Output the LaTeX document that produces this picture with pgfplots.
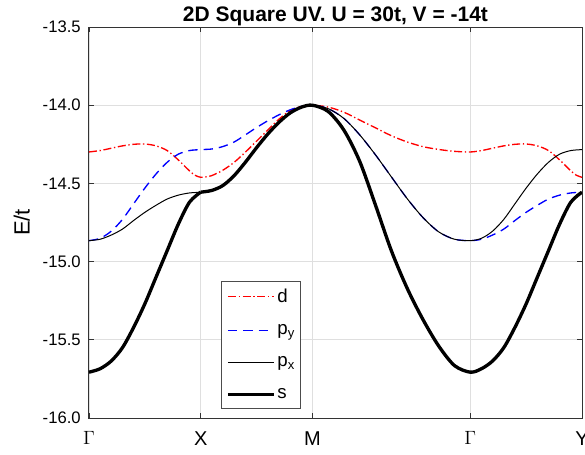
\documentclass[border=0pt]{standalone}
\usepackage{fontspec}
\setmainfont{Liberation Sans}
\usepackage{pgfplots}
\pgfplotsset{compat=1.18}
\begin{document}
\begin{tikzpicture}
\begin{axis}[
  scale only axis,
  width=369.75pt, height=293.25pt,
  xmin=0, xmax=4.41421, ymin=-16, ymax=-13.5,
  xtick={0,1,2,3.41421,4.41421},
  xticklabels={$\Gamma$,X,M,$\Gamma$,Y},
  ytick={-16,-15.5,-15,-14.5,-14,-13.5},
  y tick label style={/pgf/number format/fixed, /pgf/number format/fixed zerofill, /pgf/number format/precision=1, /pgf/number format/assume math mode=true, font=\fontsize{12.5}{14}\selectfont, inner sep=0pt, anchor=east, xshift=-6pt},
  x tick label style={font=\fontsize{15}{17}\selectfont, inner sep=0pt, anchor=north, yshift=-10pt},
  tick align=inside,
  major tick length=4pt,
  every tick/.style={black!80, line width=0.6pt},
  axis line style={black!80, line width=0.75pt},
  grid=major,
  major grid style={gray!25, line width=0.6pt},
  title={2D Square UV. U = 30t, V = -14t},
  every axis title/.style={font=\bfseries\fontsize{15.75}{18}\selectfont, at={(axis description cs:0.5,1)}, anchor=base, yshift=4.5pt, inner sep=0pt},
  ylabel={E/t},
  ylabel style={font=\fontsize{16.5}{19}\selectfont, at={(axis description cs:-0.1365,0.5)}, anchor=center, inner sep=0pt},
  legend style={at={(axis description cs:0.2677,0.0248)}, anchor=south west, draw=black!70, line width=0.5pt, fill=white, font=\fontsize{14}{16}\selectfont, inner xsep=3.75pt, inner ysep=5.5pt, row sep=15pt, cells={anchor=west}, nodes={inner sep=0pt}, /tikz/every odd column/.append style={column sep=1.5pt}},
  legend image code/.code={\draw[#1] (0pt,0pt) -- (34.3pt,0pt);},
]
% d
\addplot[red, line width=1pt, dash pattern=on 6pt off 2pt on 1pt off 2pt, smooth] coordinates {
(0,-14.299) (0.1,-14.29) (0.2,-14.275) (0.3,-14.26) (0.4,-14.25) (0.5,-14.248) (0.6,-14.26) (0.7,-14.29) (0.8,-14.35) (0.9,-14.42) (0.95,-14.448) (1,-14.461)
(1.05,-14.458) (1.1,-14.45) (1.2,-14.415) (1.3,-14.365) (1.4,-14.30) (1.5,-14.23) (1.6,-14.16) (1.7,-14.09) (1.8,-14.035) (1.9,-14.008) (2,-14.0)
(2.1414,-14.012) (2.2828,-14.045) (2.4243,-14.095) (2.5657,-14.145) (2.7071,-14.195) (2.8485,-14.235) (2.9899,-14.265) (3.1314,-14.283) (3.2728,-14.295) (3.4142,-14.299)
(3.5142,-14.29) (3.6142,-14.275) (3.7142,-14.26) (3.8142,-14.25) (3.9142,-14.248) (4.0142,-14.26) (4.1142,-14.29) (4.2142,-14.35) (4.3142,-14.42) (4.3642,-14.448) (4.4142,-14.461)
};
\addlegendentry{d}
% p_y
\addplot[blue, line width=1pt, dash pattern=on 7pt off 4.5pt, smooth] coordinates {
(0,-14.866) (0.1,-14.851) (0.2,-14.805) (0.3,-14.73) (0.4,-14.63) (0.5,-14.53) (0.6,-14.44) (0.7,-14.365) (0.8,-14.313) (0.9,-14.29) (1,-14.284)
(1.1,-14.28) (1.2,-14.264) (1.3,-14.235) (1.4,-14.19) (1.5,-14.143) (1.6,-14.10) (1.7,-14.062) (1.8,-14.03) (1.9,-14.008) (2,-14.0)
(2.1414,-14.022) (2.2828,-14.085) (2.4243,-14.19) (2.5657,-14.318) (2.7071,-14.458) (2.8485,-14.597) (2.9899,-14.718) (3.1314,-14.81) (3.2728,-14.857) (3.4142,-14.866)
(3.5142,-14.857) (3.6142,-14.83) (3.7142,-14.792) (3.8142,-14.737) (3.9142,-14.685) (4.0142,-14.64) (4.1142,-14.60) (4.2142,-14.575) (4.3142,-14.561) (4.4142,-14.556)
};
\addlegendentry{p\textsubscript{y}}
% p_x
\addplot[black, line width=0.75pt, smooth] coordinates {
(0,-14.866) (0.1,-14.857) (0.2,-14.83) (0.3,-14.792) (0.4,-14.737) (0.5,-14.685) (0.6,-14.64) (0.7,-14.60) (0.8,-14.575) (0.9,-14.561) (1,-14.556)
(1.1,-14.545) (1.2,-14.513) (1.3,-14.45) (1.4,-14.365) (1.5,-14.272) (1.6,-14.185) (1.7,-14.11) (1.8,-14.05) (1.9,-14.013) (2,-14.0)
(2.1414,-14.022) (2.2828,-14.085) (2.4243,-14.19) (2.5657,-14.318) (2.7071,-14.458) (2.8485,-14.597) (2.9899,-14.718) (3.1314,-14.81) (3.2728,-14.857) (3.4142,-14.866)
(3.5142,-14.851) (3.6142,-14.805) (3.7142,-14.73) (3.8142,-14.63) (3.9142,-14.53) (4.0142,-14.44) (4.1142,-14.365) (4.2142,-14.313) (4.3142,-14.29) (4.4142,-14.284)
};
\addlegendentry{p\textsubscript{x}}
% s
\addplot[black, line width=2.5pt, smooth] coordinates {
(0,-15.707) (0.1,-15.685) (0.2,-15.635) (0.3,-15.55) (0.4,-15.42) (0.5,-15.27) (0.6,-15.10) (0.7,-14.93) (0.8,-14.76) (0.9,-14.62) (1,-14.556)
};
\addlegendentry{s}
\addplot[black, line width=2.5pt, smooth, forget plot] coordinates {
(1,-14.556) (1.1,-14.545) (1.2,-14.513) (1.3,-14.45) (1.4,-14.365) (1.5,-14.272) (1.6,-14.185) (1.7,-14.11) (1.8,-14.05) (1.9,-14.013) (2,-14.0)
(2.1414,-14.04) (2.2828,-14.16) (2.4243,-14.36) (2.5657,-14.64) (2.7071,-14.93) (2.8485,-15.17) (2.9899,-15.37) (3.1314,-15.54) (3.2728,-15.665) (3.4142,-15.707)
(3.5142,-15.685) (3.6142,-15.635) (3.7142,-15.55) (3.8142,-15.42) (3.9142,-15.27) (4.0142,-15.10) (4.1142,-14.93) (4.2142,-14.76) (4.3142,-14.62) (4.4142,-14.556)
};
\end{axis}
\pgfresetboundingbox
\path[use as bounding box] ([xshift=-66.75pt,yshift=-27pt]current axis.south west) rectangle ([xshift=2.25pt,yshift=20.25pt]current axis.north east);
\end{tikzpicture}
\end{document}
